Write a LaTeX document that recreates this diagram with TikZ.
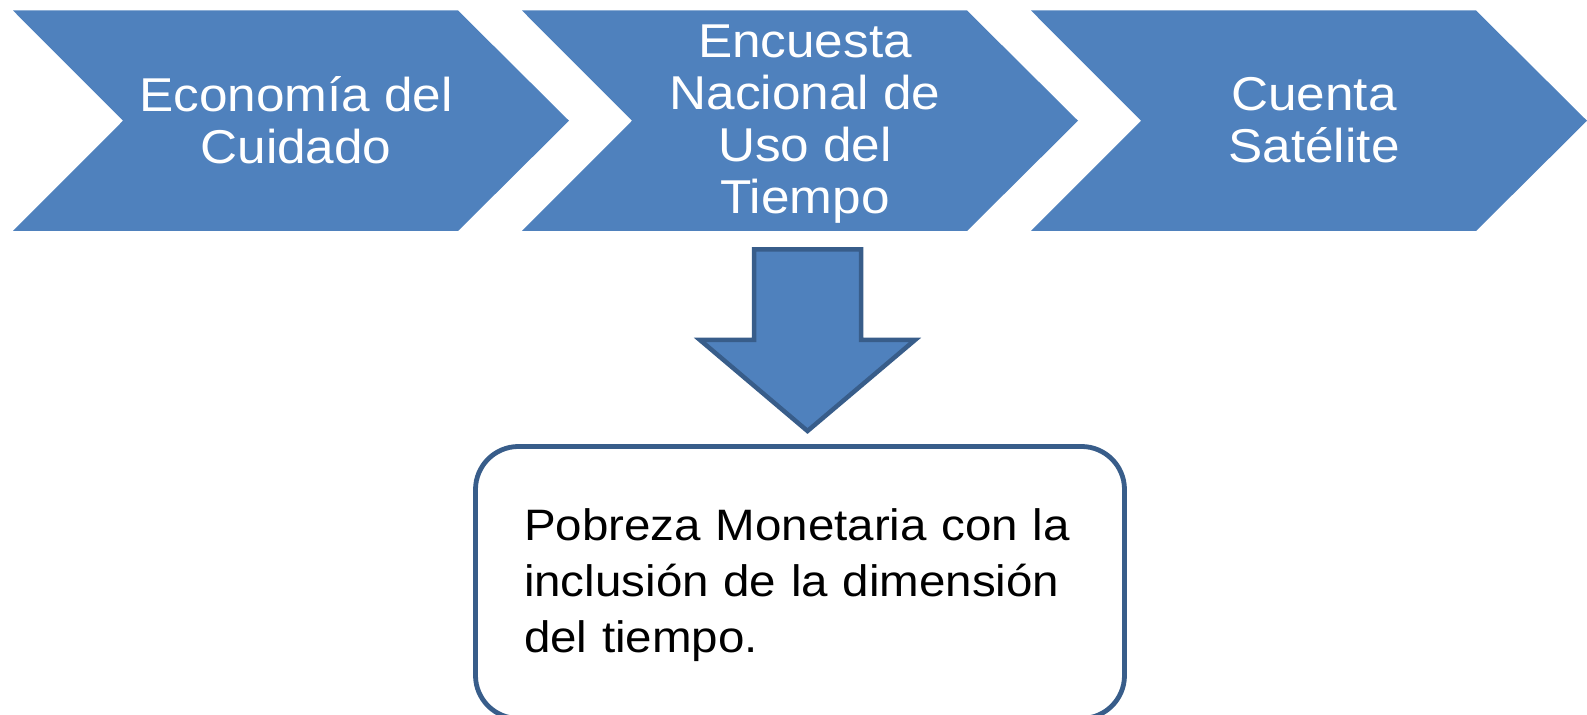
\documentclass[tikz,border=0pt]{standalone}
\usepackage{fontspec}
\setmainfont[FakeStretch=1.08]{Liberation Sans}
\definecolor{chevblue}{HTML}{4F81BD}
\definecolor{edgeblue}{HTML}{385D8A}
\begin{document}
\begin{tikzpicture}[x=0.5pt, y=-0.5pt, line join=miter,
		chevron/.style={fill=chevblue},
		chevtext/.style={text=white, align=center, inner sep=0pt, font=\fontsize{23.75}{26}\selectfont},
		resultbox/.style={draw=edgeblue, line width=2.4pt, rounded corners=21.5pt, fill=white, align=left,
			text width=276pt, inner xsep=24.25pt, minimum width=324.5pt, minimum height=136pt,
			font=\fontsize{22}{28}\selectfont}]
	\useasboundingbox (0,0) rectangle (1587,715);
	% chevrons
	\foreach \xl in {13,522,1031}
		\fill[chevron] (\xl,10.5) -- ++(445,0) -- ++(111,110.25) -- ++(-111,110.25) -- ++(-445,0) -- ++(110,-110.25) -- cycle;
	\node[chevtext] (cuidado) at (296,120) {Economía del\\Cuidado};
	\node[chevtext] (encuesta) at (805,124) {Encuesta\\Nacional de\\Uso del\\Tiempo};
	\node[chevtext] (cuenta) at (1314,120) {Cuenta\\Satélite};
	% block arrow
	\draw[edgeblue, line width=2.25pt, fill=chevblue] (754,249.5) -- (861,249.5) -- (861,340) -- (915,340)
		-- (807.5,431) -- (700,340) -- (754,340) -- cycle;
	% result
	\node[resultbox] (pobreza) at (800,582.5) {\rule{0pt}{19pt}Pobreza Monetaria con la\\inclusión de la dimensión\\del tiempo.};
\end{tikzpicture}
\end{document}
